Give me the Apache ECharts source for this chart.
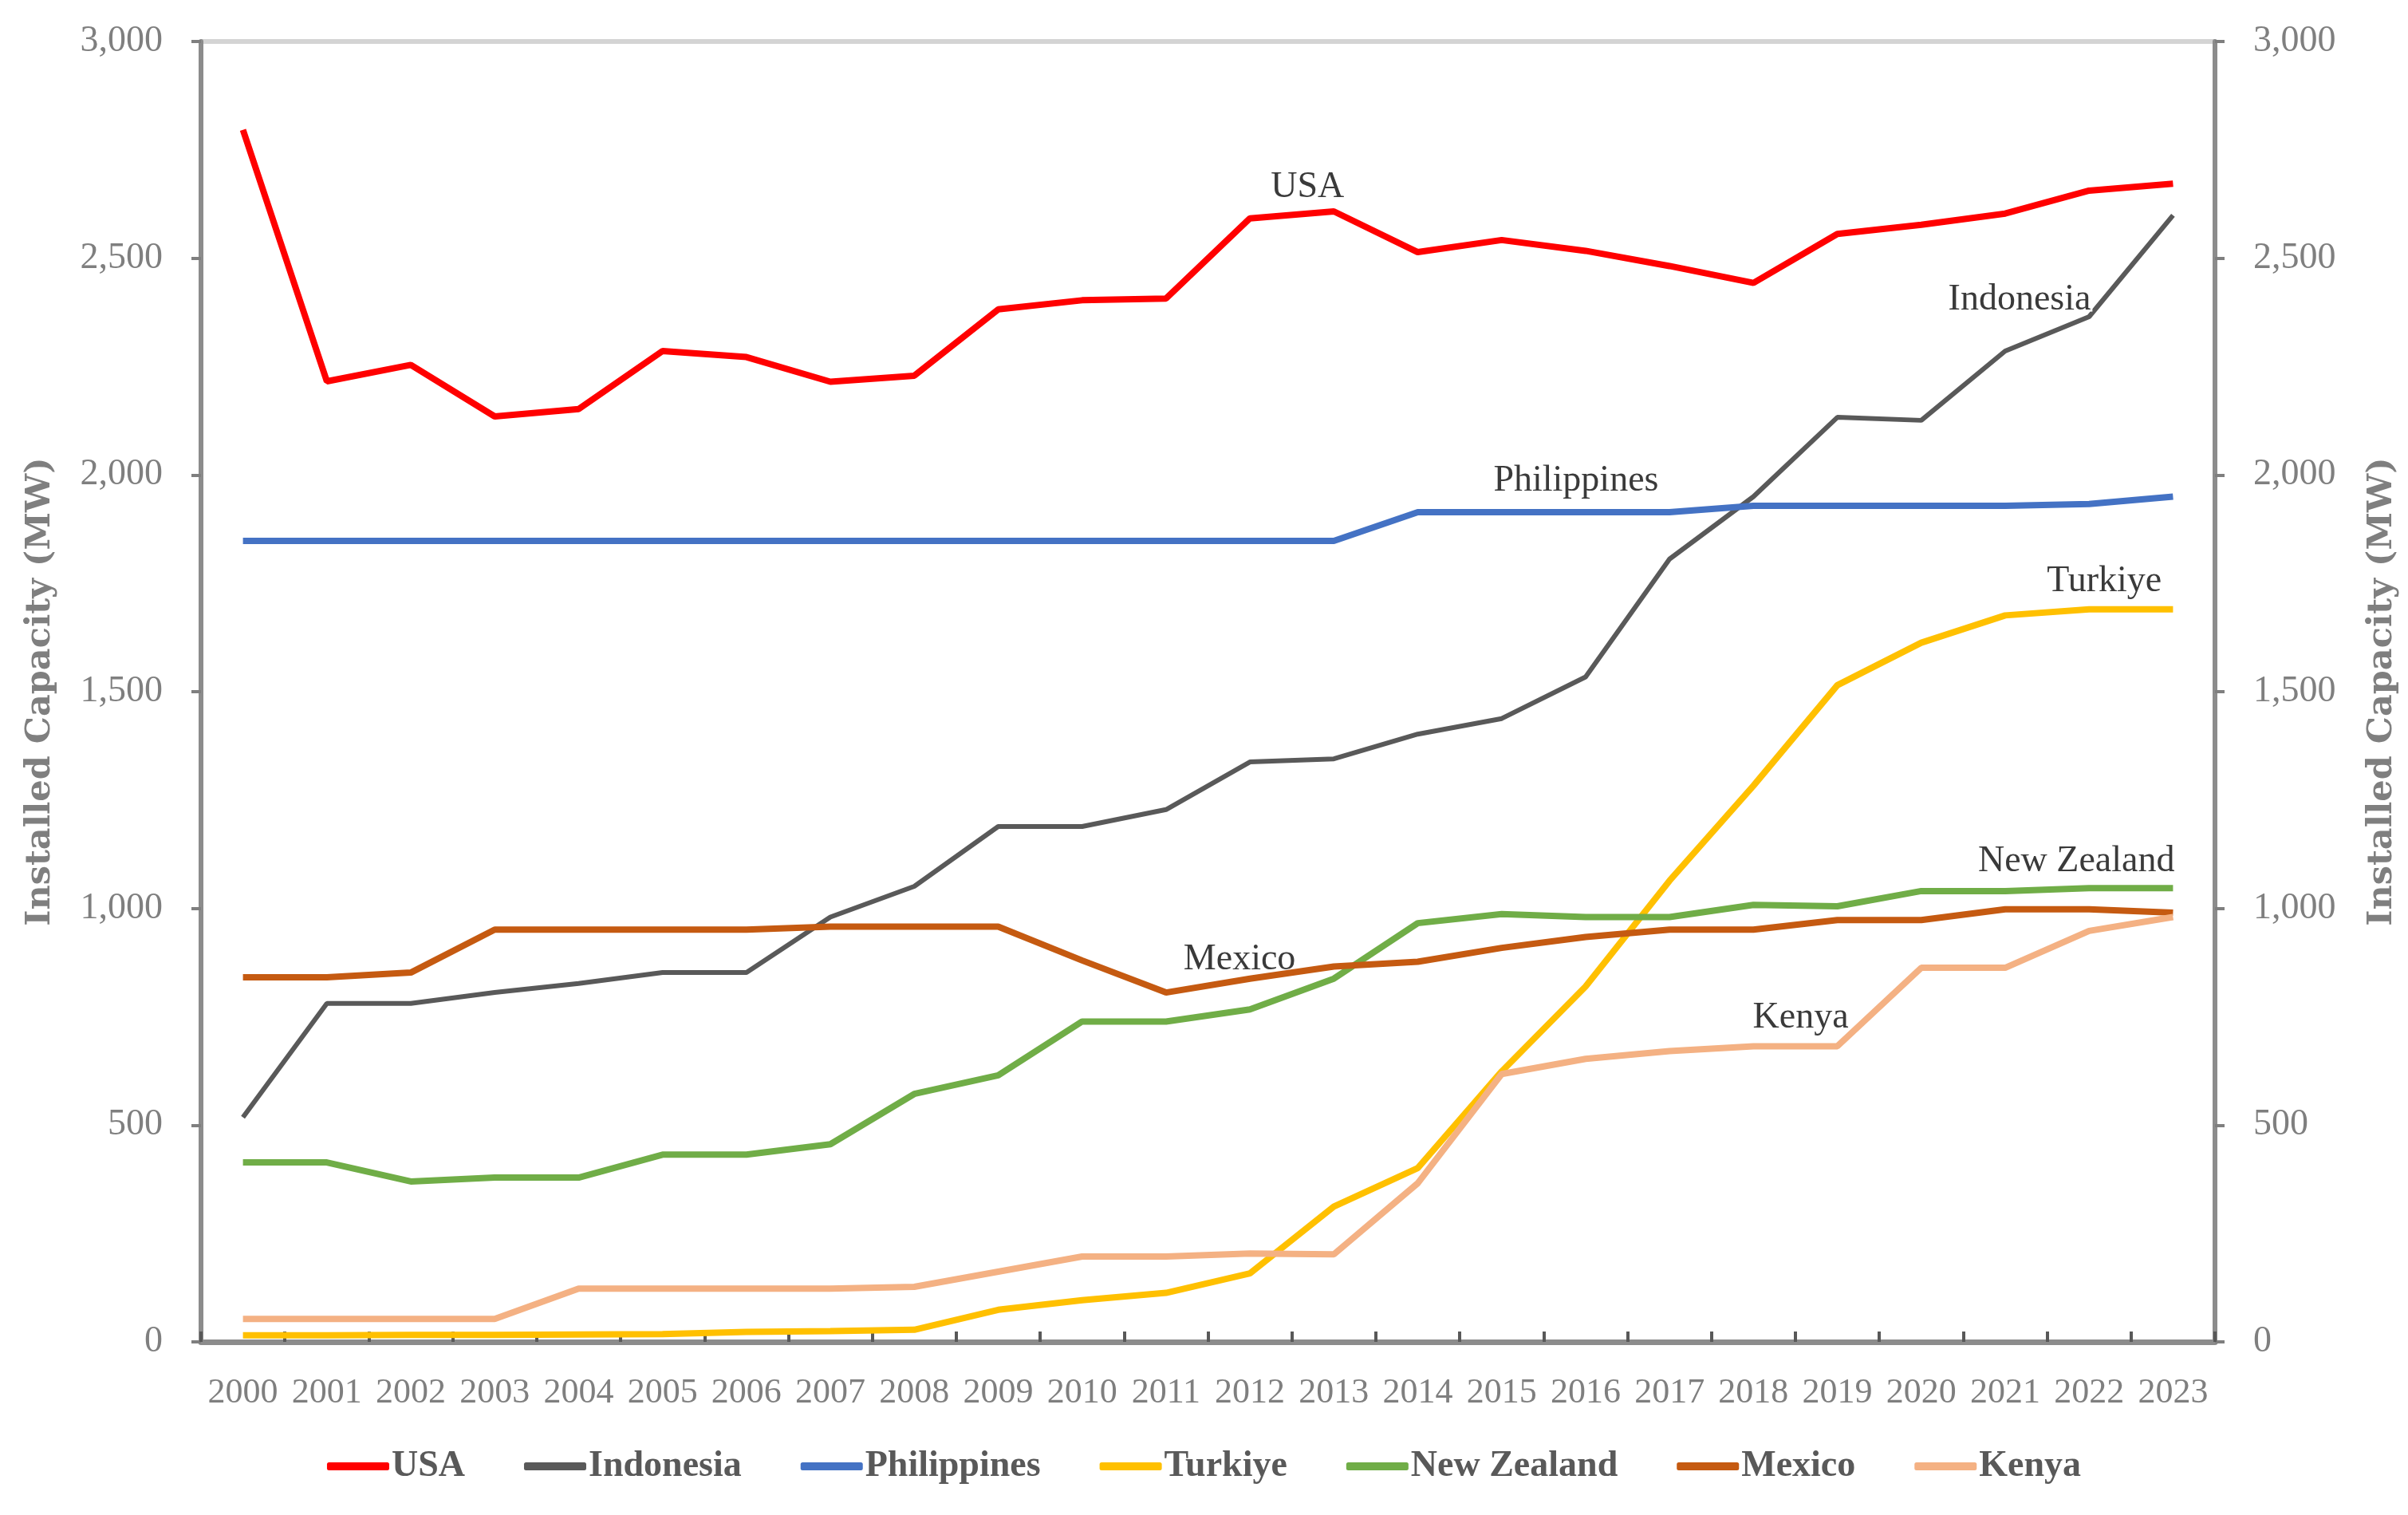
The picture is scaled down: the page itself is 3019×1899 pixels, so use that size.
<!DOCTYPE html>
<html>
<head>
<meta charset="utf-8">
<script src="https://cdn.jsdelivr.net/npm/echarts@6/dist/echarts.min.js"></script>
<style>html,body{margin:0;padding:0;background:#fff;}#c{width:3019px;height:1899px;}</style>
</head>
<body>
<div id="c"></div>
<script>
const years = ['2000','2001','2002','2003','2004','2005','2006','2007','2008','2009','2010','2011','2012','2013','2014','2015','2016','2017','2018','2019','2020','2021','2022','2023'];
const yTicks = [0, 500, 1000, 1500, 2000, 2500, 3000];
const usa = [2796,2216,2254,2135,2152,2286,2272,2215,2229,2382,2403,2407,2592,2608,2514,2542,2517,2482,2443,2556,2577,2603,2656,2672];
const indonesia = [518,781,781,806,827,852,852,980,1051,1189,1189,1228,1338,1345,1402,1438,1534,1806,1950,2133,2126,2286,2365,2599];
const philippines = [1848,1848,1848,1848,1848,1848,1848,1848,1848,1848,1848,1848,1848,1848,1914,1914,1914,1914,1929,1929,1929,1929,1933,1950];
const turkiye = [15,15,16,16,17,18,23,25,28,74,96,113,158,312,401,624,820,1064,1283,1515,1613,1676,1690,1690];
const newZealand = [414,414,370,379,379,432,432,456,572,615,739,739,767,838,966,987,980,980,1008,1005,1040,1040,1047,1047];
const mexico = [841,841,852,951,951,951,951,958,958,958,880,806,838,866,877,909,934,951,951,973,973,998,998,990];
const kenya = [53,53,53,53,123,123,123,123,127,162,197,197,204,202,366,618,653,671,682,682,863,863,948,980];

const seriesNames = ['USA','Indonesia','Philippines','Turkiye','New Zealand','Mexico','Kenya'];
const seriesData = [usa, indonesia, philippines, turkiye, newZealand, mexico, kenya];
const colors = ['#ff0000','#595959','#4472c4','#ffc000','#70ad47','#c55a11','#f4b183'];
const widths = [8,6,8,8,8,8,8];
// annotation anchors: [category index, value, x offset px]
const annot = [
  [13, 2663, -33],
  [21, 2404, 18],
  [16, 1986, -12],
  [22, 1754, 19],
  [22, 1108, -16],
  [12, 882, -13],
  [19, 747, -46]
];

const serif = '"Liberation Serif", "DejaVu Serif", serif';
const fmt = v => Number(v).toLocaleString('en-US');

const chart = echarts.init(document.getElementById('c'));
const axisCommon = {
  type: 'value', min: 0, max: 3000, interval: 500,
  axisLine: { show: true, lineStyle: { color: '#8c8c8c', width: 6 } },
  axisTick: { show: true, inside: false, length: 12, lineStyle: { color: '#7f7f7f', width: 4 } },
  axisLabel: { formatter: fmt, fontFamily: serif, fontSize: 46, color: '#7f7f7f', margin: 48 },
  name: 'Installed Capacity (MW)',
  nameLocation: 'middle',
  nameRotate: 90,
  nameTextStyle: { fontFamily: '"DejaVu Serif", serif', fontWeight: 'bold', fontSize: 43, color: '#7f7f7f' }
};

chart.setOption({
  animation: false,
  backgroundColor: '#ffffff',
  color: colors,
  grid: { left: 252, right: 242, top: 52, bottom: 217, containLabel: false },
  legend: {
    bottom: 33, left: 'center',
    itemWidth: 78, itemHeight: 10, itemGap: 74,
    icon: 'roundRect',
    textStyle: { fontFamily: serif, fontSize: 46, fontWeight: 'bold', color: '#595959', padding: [0, 0, 0, -2] },
    data: seriesNames
  },
  xAxis: {
    type: 'category', data: years, boundaryGap: true,
    axisLine: { lineStyle: { color: '#8c8c8c', width: 7 } },
    axisTick: { show: true, inside: true, length: 13, alignWithLabel: false, lineStyle: { color: '#595959', width: 4 } },
    axisLabel: { interval: 0, fontFamily: serif, fontSize: 44, color: '#7f7f7f', margin: 42 },
    splitLine: { show: false }
  },
  yAxis: [
    Object.assign({}, axisCommon, {
      position: 'left', nameGap: 180,
      splitLine: { show: true, lineStyle: { color: ['rgba(0,0,0,0)','rgba(0,0,0,0)','rgba(0,0,0,0)','rgba(0,0,0,0)','rgba(0,0,0,0)','rgba(0,0,0,0)','#d4d4d4'], width: 6 } }
    }),
    Object.assign({}, axisCommon, {
      position: 'right', nameGap: 188, splitLine: { show: false }
    })
  ],
  series: seriesData.map((d, i) => ({
    name: seriesNames[i],
    type: 'line',
    data: d,
    yAxisIndex: 0,
    symbol: 'none',
    lineStyle: { width: widths[i], color: colors[i] },
    itemStyle: { color: colors[i] },
    z: 2 + i,
    markPoint: {
      symbol: 'circle', symbolSize: 1,
      itemStyle: { color: 'rgba(0,0,0,0)' },
      label: {
        show: true, position: 'inside', offset: [annot[i][2], 0],
        formatter: seriesNames[i],
        fontFamily: serif, fontSize: 46, color: '#3a3a3a',
        textBorderColor: '#ffffff', textBorderWidth: 5
      },
      data: [{ coord: [annot[i][0], annot[i][1]] }]
    }
  }))
});
</script>
</body>
</html>
